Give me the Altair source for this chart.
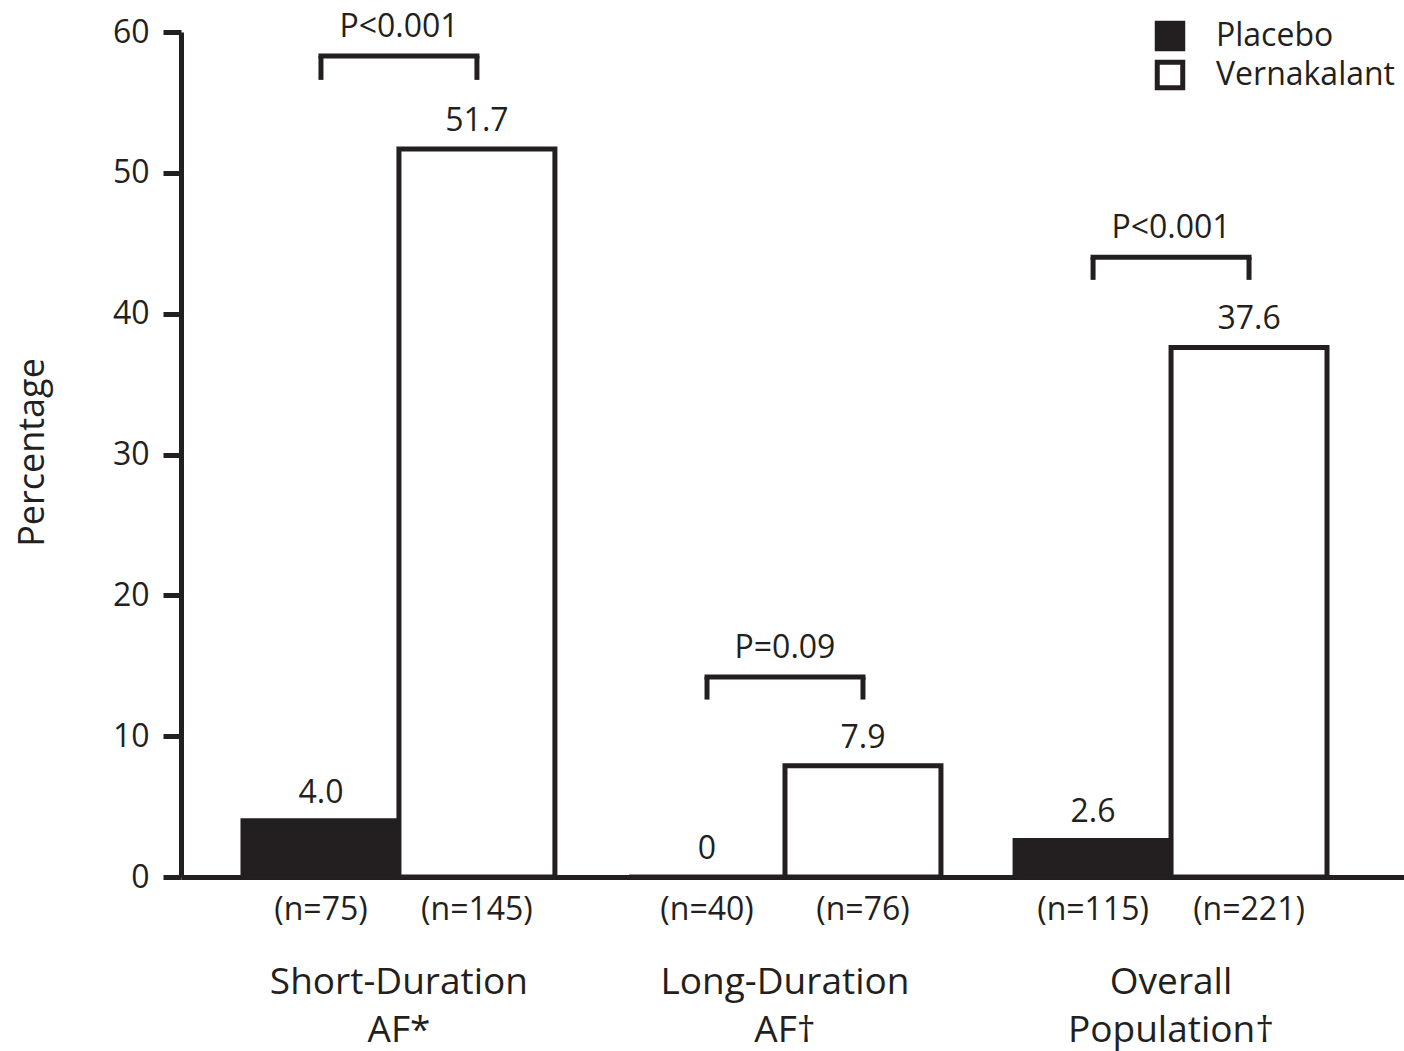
import altair as alt
import pandas as pd

# ---- data ----
groups = ["Short-Duration|AF*", "Long-Duration|AF†", "Overall|Population†"]
treatments = ["Placebo", "Vernakalant"]
placebo_pct = [4.0, 0.0, 2.6]
vernakalant_pct = [51.7, 7.9, 37.6]
placebo_lbl = ["4.0", "0", "2.6"]
vernakalant_lbl = ["51.7", "7.9", "37.6"]
placebo_n = ["(n=75)", "(n=40)", "(n=115)"]
vernakalant_n = ["(n=145)", "(n=76)", "(n=221)"]
p_values = ["P<0.001", "P=0.09", "P<0.001"]
bracket_top = [58.3, 14.2, 44.0]
bracket_leg = [56.6, 12.6, 42.4]
y_ticks = [0, 10, 20, 30, 40, 50, 60]

INK = "#231f20"
FONT = "Open Sans"

rows = []
for i, g in enumerate(groups):
    rows.append(dict(group=g, treatment="Placebo", pct=placebo_pct[i], lbl=placebo_lbl[i],
                     n=placebo_n[i], btop=bracket_top[i], bleg=bracket_leg[i]))
    rows.append(dict(group=g, treatment="Vernakalant", pct=vernakalant_pct[i], lbl=vernakalant_lbl[i],
                     n=vernakalant_n[i], btop=bracket_top[i], bleg=bracket_leg[i]))
bars = pd.DataFrame(rows)
pdf = pd.DataFrame(dict(group=groups, p=p_values, btop=bracket_top))

xscale = alt.Scale(domain=groups, paddingInner=0.192, paddingOuter=0.18, align=0.446)
X = alt.X("group:N", sort=groups, scale=xscale,
          axis=alt.Axis(title=None, ticks=False, tickSize=0, labelPadding=87,
                        labelExpr="split(datum.label, '|')", labelFontSize=37,
                        labelLineHeight=48, labelAngle=0, labelFont=FONT, labelColor=INK,
                        labelLimit=0, domainColor=INK, domainWidth=5, grid=False))
XO = alt.XOffset("treatment:N", sort=treatments, scale=alt.Scale(paddingInner=0, paddingOuter=0))
yscale = alt.Scale(domain=[0, 60], nice=False, zero=True)
Y = alt.Y("pct:Q", scale=yscale,
          axis=alt.Axis(values=y_ticks, tickSize=18, tickWidth=5, tickColor=INK,
                        domainColor=INK, domainWidth=5, labelPadding=14, labelFontSize=32,
                        labelFont=FONT, labelColor=INK, grid=False,
                        title="Percentage", titleFont=FONT, titleFontSize=36,
                        titleFontWeight="normal", titleColor=INK, titleAngle=-90,
                        titleX=-138, titleY=420, titleAlign="center",
                        titleBaseline="alphabetic"))

bar = alt.Chart(bars).mark_bar(stroke=INK, strokeWidth=5, strokeJoin="miter").encode(
    x=X, xOffset=XO, y=Y,
    fill=alt.Fill("treatment:N", sort=treatments,
                  scale=alt.Scale(domain=treatments, range=[INK, "#ffffff"]),
                  legend=alt.Legend(title=None, orient="none", legendX=973, legendY=-12,
                                    symbolType="square", symbolSize=650,
                                    symbolStrokeColor=INK, symbolStrokeWidth=5,
                                    labelFontSize=32, labelFont=FONT, labelColor=INK,
                                    labelLimit=0, labelOffset=30, rowPadding=-12, padding=0))
)

vals = alt.Chart(bars).mark_text(dy=-18, baseline="alphabetic", fontSize=32, font=FONT,
                                 color=INK).encode(
    x=X, xOffset=XO, y=alt.Y("pct:Q", scale=yscale), text="lbl:N")

nlab = alt.Chart(bars).mark_text(dy=33, baseline="middle", fontSize=32, font=FONT,
                                 color=INK).encode(
    x=X, xOffset=XO, y=alt.datum(0, scale=yscale), text="n:N")

legs = alt.Chart(bars).mark_rule(strokeWidth=5, color=INK).encode(
    x=X, xOffset=XO, y=alt.Y("btop:Q", scale=yscale), y2="bleg:Q")

topline = alt.Chart(bars).mark_line(strokeWidth=5, color=INK, strokeCap="square").encode(
    x=X, xOffset=XO, y=alt.Y("btop:Q", scale=yscale), detail="group:N")

ptext = alt.Chart(pdf).mark_text(dy=-19, baseline="alphabetic", fontSize=32, font=FONT,
                                 color=INK).encode(
    x=X, y=alt.Y("btop:Q", scale=yscale), text="p:N")

chart = alt.layer(bar, vals, nlab, legs, topline, ptext).properties(
    width=1223, height=845,
    background="white",
    autosize=alt.AutoSizeParams(type="none"),
    padding={"left": 181, "top": 32, "right": 0, "bottom": 174},
).configure_view(stroke=None).configure_axis(grid=False)

chart.save("out.html", embed_options={"renderer": "svg", "actions": False})
